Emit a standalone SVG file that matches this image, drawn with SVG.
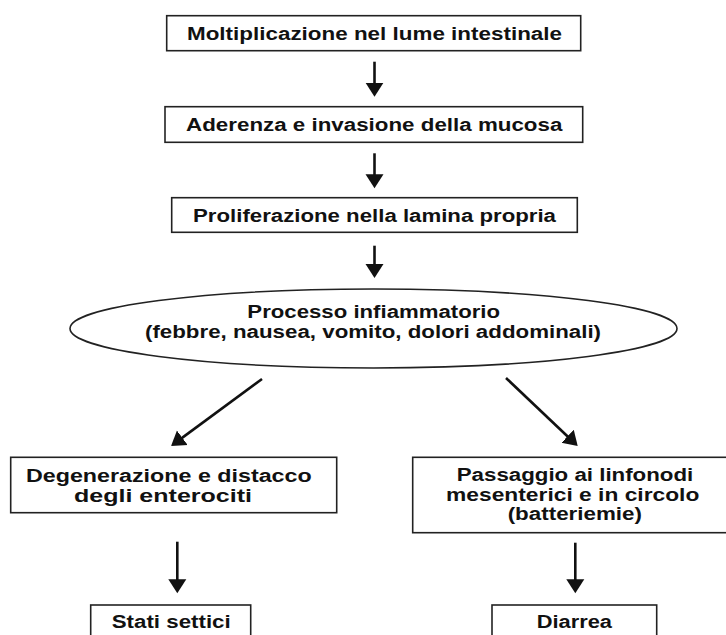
<svg xmlns="http://www.w3.org/2000/svg" width="726" height="635" viewBox="0 0 726 635">
  <style>
    .box { fill: #ffffff; stroke: #222222; stroke-width: 1.6; }
    .lbl { font-family: "Liberation Sans", Arial, sans-serif; font-weight: bold; font-size: 18.5px; fill: #111111; }
    .arr { stroke: #111111; stroke-width: 2.6; fill: none; marker-end: url(#head); }
  </style>
  <defs>
    <marker id="head" markerUnits="userSpaceOnUse" viewBox="0 -10 16 20" markerWidth="16" markerHeight="20" refX="2" refY="0" orient="auto">
      <path d="M0,-9 L14,0 L0,9 Z" fill="#111111"/>
    </marker>
  </defs>
  <rect width="726" height="635" fill="#ffffff"/>

  <g id="connectors">
    <line class="arr" x1="374.5" y1="61.7" x2="374.5" y2="84.7"/>
    <line class="arr" x1="374.5" y1="153.3" x2="374.5" y2="176.3"/>
    <line class="arr" x1="374.5" y1="245.7" x2="374.5" y2="266"/>
    <line class="arr" x1="262" y1="379" x2="180.7" y2="438.9"/>
    <line class="arr" x1="506" y1="378" x2="569" y2="437.7"/>
    <line class="arr" x1="177.3" y1="541.7" x2="177.3" y2="581.3"/>
    <line class="arr" x1="575.3" y1="542.7" x2="575.3" y2="581.3"/>
  </g>

  <g id="n1">
    <rect class="box" x="166.7" y="15.7" width="414" height="35"/>
    <text class="lbl" transform="translate(374.5,40) scale(1.22,1)" x="-153.7" y="0" textLength="307.4" lengthAdjust="spacingAndGlyphs">Moltiplicazione nel lume intestinale</text>
  </g>
  <g id="n2">
    <rect class="box" x="165" y="106.7" width="417.7" height="35.6"/>
    <text class="lbl" transform="translate(374.2,131) scale(1.22,1)" x="-154.2" y="0" textLength="308.4" lengthAdjust="spacingAndGlyphs">Aderenza e invasione della mucosa</text>
  </g>
  <g id="n3">
    <rect class="box" x="171.7" y="197.7" width="405.6" height="34.6"/>
    <text class="lbl" transform="translate(374.5,221.7) scale(1.22,1)" x="-148.75" y="0" textLength="297.5" lengthAdjust="spacingAndGlyphs">Proliferazione nella lamina propria</text>
  </g>
  <g id="n4">
    <ellipse class="box" cx="373.5" cy="328.5" rx="303.5" ry="39.5"/>
    <text class="lbl" transform="translate(373.7,318.3) scale(1.22,1)" x="-103.55" y="0" textLength="207.1" lengthAdjust="spacingAndGlyphs">Processo infiammatorio</text>
    <text class="lbl" transform="translate(373,338.3) scale(1.22,1)" x="-186.9" y="0" textLength="373.8" lengthAdjust="spacingAndGlyphs">(febbre, nausea, vomito, dolori addominali)</text>
  </g>
  <g id="n5">
    <rect class="box" x="10.7" y="457.3" width="326" height="55.4"/>
    <text class="lbl" transform="translate(168.8,481.7) scale(1.22,1)" x="-117.1" y="0" textLength="234.2" lengthAdjust="spacingAndGlyphs">Degenerazione e distacco</text>
    <text class="lbl" transform="translate(163,501.5) scale(1.22,1)" x="-72.95" y="0" textLength="145.9" lengthAdjust="spacingAndGlyphs">degli enterociti</text>
  </g>
  <g id="n6">
    <rect class="box" x="412.7" y="457.3" width="320" height="75.4"/>
    <text class="lbl" transform="translate(575,481) scale(1.22,1)" x="-96.95" y="0" textLength="193.9" lengthAdjust="spacingAndGlyphs">Passaggio ai linfonodi</text>
    <text class="lbl" transform="translate(572.7,500.7) scale(1.22,1)" x="-103.8" y="0" textLength="207.6" lengthAdjust="spacingAndGlyphs">mesenterici e in circolo</text>
    <text class="lbl" transform="translate(574.8,520) scale(1.22,1)" x="-55.05" y="0" textLength="110.1" lengthAdjust="spacingAndGlyphs">(batteriemie)</text>
  </g>
  <g id="n7">
    <rect class="box" x="90.7" y="605" width="160" height="40"/>
    <text class="lbl" transform="translate(171.2,628.3) scale(1.22,1)" x="-48.75" y="0" textLength="97.5" lengthAdjust="spacingAndGlyphs">Stati settici</text>
  </g>
  <g id="n8">
    <rect class="box" x="492" y="605" width="164.7" height="40"/>
    <text class="lbl" transform="translate(574.3,628.3) scale(1.22,1)" x="-30.85" y="0" textLength="61.7" lengthAdjust="spacingAndGlyphs">Diarrea</text>
  </g>
</svg>
